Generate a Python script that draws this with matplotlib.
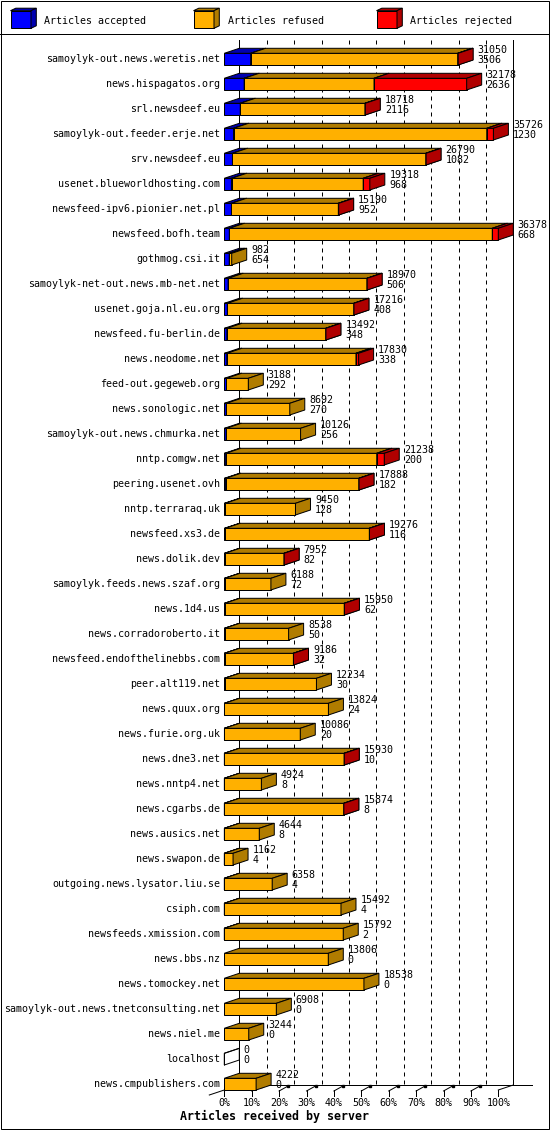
import matplotlib
matplotlib.use("Agg")
import matplotlib.pyplot as plt
from matplotlib.patches import Polygon, Rectangle

# data
servers = [
    "samoylyk-out.news.weretis.net", "news.hispagatos.org", "srl.newsdeef.eu",
    "samoylyk-out.feeder.erje.net", "srv.newsdeef.eu", "usenet.blueworldhosting.com",
    "newsfeed-ipv6.pionier.net.pl", "newsfeed.bofh.team", "gothmog.csi.it",
    "samoylyk-net-out.news.mb-net.net", "usenet.goja.nl.eu.org", "newsfeed.fu-berlin.de",
    "news.neodome.net", "feed-out.gegeweb.org", "news.sonologic.net",
    "samoylyk-out.news.chmurka.net", "nntp.comgw.net", "peering.usenet.ovh",
    "nntp.terraraq.uk", "newsfeed.xs3.de", "news.dolik.dev",
    "samoylyk.feeds.news.szaf.org", "news.1d4.us", "news.corradoroberto.it",
    "newsfeed.endofthelinebbs.com", "peer.alt119.net", "news.quux.org",
    "news.furie.org.uk", "news.dne3.net", "news.nntp4.net", "news.cgarbs.de",
    "news.ausics.net", "news.swapon.de", "outgoing.news.lysator.liu.se",
    "csiph.com", "newsfeeds.xmission.com", "news.bbs.nz", "news.tomockey.net",
    "samoylyk-out.news.tnetconsulting.net", "news.niel.me", "localhost",
    "news.cmpublishers.com",
]
totals = [31050, 32178, 18718, 35726, 26790, 19318, 15190, 36378, 982, 18970,
          17216, 13492, 17830, 3188, 8692, 10126, 21238, 17888, 9450, 19276,
          7952, 6188, 15950, 8538, 9186, 12234, 13824, 10086, 15930, 4924,
          15874, 4644, 1162, 6358, 15492, 15792, 13806, 18538, 6908, 3244,
          0, 4222]
accepted = [3506, 2636, 2116, 1230, 1082, 968, 952, 668, 654, 506,
            408, 348, 338, 292, 270, 256, 200, 182, 128, 116,
            82, 72, 62, 50, 32, 30, 24, 20, 10, 8,
            8, 8, 4, 4, 4, 2, 0, 0, 0, 0,
            0, 0]
refused = [27484, 17242, 16562, 33616, 25678, 17470, 14188, 34910, 328, 18434,
           16788, 13124, 17142, 2896, 8422, 9870, 20038, 17686, 9322, 19140,
           7850, 6116, 15868, 8488, 9144, 12204, 13800, 10066, 15910, 4916,
           15856, 4636, 1158, 6354, 15488, 15790, 13806, 18538, 6908, 3244,
           0, 4222]
rejected = [60, 12300, 40, 880, 30, 880, 50, 800, 0, 30,
            20, 20, 350, 0, 0, 0, 1000, 20, 0, 20,
            20, 0, 20, 0, 10, 0, 0, 0, 10, 0,
            10, 0, 0, 0, 0, 0, 0, 0, 0, 0,
            0, 0]
tick_labels = ["0%", "10%", "20%", "30%", "40%", "50%", "60%", "70%", "80%", "90%", "100%"]
legend_labels = ["Articles accepted", "Articles refused", "Articles rejected"]
front_colors = ["#0000ff", "#ffb000", "#ff0000"]
dark_colors = ["#0000b0", "#b07c00", "#b00000"]

W_PX, H_PX = 550, 1130
X0, XW = 224.3, 274.0      # front plane 0% .. 100%
DXP, DYP = 15.0, 5.0       # 3d depth
ROW0, PITCH, BAR_H = 53.3, 25.0, 11.7
LW = 0.72                  # one pixel

plt.rcParams["font.family"] = ["DejaVu Sans Mono"]
plt.rcParams["font.size"] = 7.2

vmax = max(totals)
fig = plt.figure(figsize=(W_PX / 100, H_PX / 100), dpi=100)
ax = fig.add_axes([0, 0, 1, 1])
ax.set_xlim(-X0 * vmax / XW, (W_PX - X0) * vmax / XW)
ax.set_ylim((H_PX - ROW0) / PITCH, -ROW0 / PITCH)
ax.axis("off")


def px_x(p):
    return (p - X0) * vmax / XW


def px_y(p):
    return (p - ROW0) / PITCH


dx = DXP * vmax / XW
dy = DYP / PITCH
h = BAR_H / PITCH


def box(x0, x1, y, fc, dc, z):
    front = [(x0, y), (x1, y), (x1, y + h), (x0, y + h)]
    top = [(x0, y), (x0 + dx, y - dy), (x1 + dx, y - dy), (x1, y)]
    side = [(x1, y), (x1 + dx, y - dy), (x1 + dx, y + h - dy), (x1, y + h)]
    for pts, c in ((front, fc), (top, dc), (side, dc)):
        ax.add_patch(Polygon(pts, closed=True, facecolor=c, edgecolor="black",
                             linewidth=LW, zorder=z, joinstyle="miter"))


# back wall: grid lines
y_top, y_base = px_y(40), px_y(1085)
for k in range(11):
    xb = k * vmax / 10 + dx
    if k in (0, 10):
        ax.plot([xb, xb], [y_top, y_base], color="black", lw=LW, zorder=1)
    else:
        ax.plot([xb, xb], [y_top, y_base], color="black", lw=LW,
                dashes=(4, 4), zorder=1)
ax.plot([dx, px_x(532)], [y_base, y_base], color="black", lw=LW, zorder=1)
ax.plot([-dx, dx], [px_y(1095), y_base], color="black", lw=LW, zorder=1)
ax.plot([vmax, vmax + dx], [px_y(1090), y_base], color="black", lw=LW, zorder=1)

# ticks under the floor
for k, lab in enumerate(tick_labels):
    xf = k * vmax / 10
    ax.plot([xf, xf], [px_y(1090), px_y(1096)], color="black", lw=LW, zorder=1)
    if k < 10:
        xe = xf + 9 * vmax / XW
        ax.plot([xf, xe], [px_y(1091), px_y(1086)], color="black", lw=LW, zorder=1)
        ax.plot([xe], [px_y(1086)], marker="s", ms=1.6, color="black", zorder=1)
    ax.text(xf, px_y(1103), lab, ha="center", va="center")

ax.text(px_x(274), px_y(1116), "Articles received by server", ha="center",
        va="center", fontsize=8.4, fontweight="bold")

# bars
for i, name in enumerate(servers):
    z = 2 + i * 0.01
    parts = [accepted[i], refused[i], rejected[i]]
    start = 0
    if totals[i] == 0:
        box(0, 0, i, "none", "none", z)
    for j, v in enumerate(parts):
        if v > 0:
            box(start, start + v, i, front_colors[j], dark_colors[j], z)
            start += v
    ax.text(px_x(220.4), i + h / 2, name, ha="right", va="center")
    xl = totals[i] + dx + 4.5 * vmax / XW
    ax.text(xl, i - 3.3 / PITCH, str(totals[i]), ha="left", va="center", zorder=5)
    ax.text(xl, i + 7.0 / PITCH, str(accepted[i]), ha="left", va="center", zorder=5)

# legend and frame, in pixels
pax = fig.add_axes([0, 0, 1, 1])
pax.set_xlim(0, W_PX)
pax.set_ylim(H_PX, 0)
pax.axis("off")
pax.patch.set_alpha(0)
pax.add_patch(Rectangle((0.5, 0.5), W_PX - 1.5, H_PX - 1.5, fill=False,
                        edgecolor="black", lw=LW))
pax.plot([0, W_PX], [34.3, 34.3], color="black", lw=LW)
for j, lab in enumerate(legend_labels):
    lx = 10.5 + j * 183
    x1, ytop, ybot = lx + 20.5, 10.7, 28.3
    ddx, ddy = 5.3, 2.5
    pts = [
        ([(lx, ytop), (x1, ytop), (x1, ybot), (lx, ybot)], front_colors[j]),
        ([(lx, ytop), (lx + ddx, ytop - ddy), (x1 + ddx, ytop - ddy), (x1, ytop)], dark_colors[j]),
        ([(x1, ytop), (x1 + ddx, ytop - ddy), (x1 + ddx, ybot - ddy), (x1, ybot)], dark_colors[j]),
    ]
    for p, c in pts:
        pax.add_patch(Polygon(p, closed=True, facecolor=c, edgecolor="black", lw=LW))
    pax.text(lx + 34, 20.5, lab, ha="left", va="center")

fig.savefig("out.png", dpi=100)
